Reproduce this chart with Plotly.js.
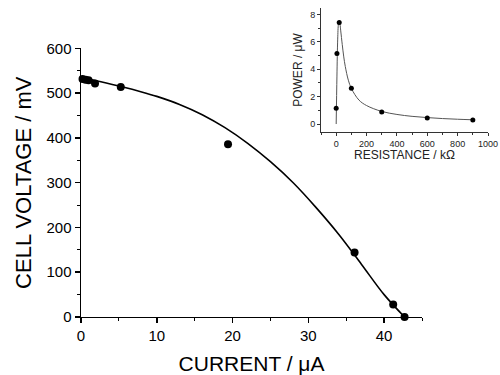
<!DOCTYPE html>
<html><head><meta charset="utf-8">
<script src="https://cdn.plot.ly/plotly-3.0.1.min.js"></script>
<style>body{margin:0;background:#fff}#c{width:500px;height:375px}</style>
</head><body><div id="c"></div>
<script>
// Main: polarization data
var currentPts = [0.2, 0.6, 1.0, 1.85, 5.25, 19.4, 36.1, 41.2, 42.7];
var voltagePts = [532, 530, 529, 522, 514, 386, 144, 28, 0];
// Main: fitted curve
var currentFit = [0, 2, 5, 8, 10, 13, 16, 19, 22, 25, 28, 31, 34, 37, 40, 42.7];
var voltageFit = [535, 528, 516, 503, 493, 475, 452, 423, 388, 347, 300, 245, 185, 118, 50, 0];
// Inset: power vs resistance
var resistPts = [0, 5, 20, 100, 300, 600, 900];
var powerPts = [1.15, 5.15, 7.42, 2.62, 0.88, 0.44, 0.29];
var resistFit = [0, 5, 10, 15, 20, 25, 30, 40, 50, 60, 80, 100, 150, 200, 300, 400, 500, 600, 700, 800, 900];
var powerFit = [0, 3.5, 6.2, 7.3, 7.5, 7.3, 6.8, 5.8, 4.9, 4.2, 3.2, 2.6, 1.75, 1.35, 0.92, 0.7, 0.56, 0.47, 0.4, 0.35, 0.31];

var F = 'Liberation Sans, Arial, sans-serif';
var traces = [
  {x: currentFit, y: voltageFit, mode: 'lines', line: {color: '#000', width: 1.6, shape: 'spline'}, xaxis: 'x', yaxis: 'y', hoverinfo: 'none'},
  {x: currentPts, y: voltagePts, mode: 'markers', marker: {color: '#000', size: 8}, xaxis: 'x', yaxis: 'y', cliponaxis: false},
  {x: resistFit, y: powerFit, mode: 'lines', line: {color: '#555', width: 1, shape: 'spline'}, xaxis: 'x2', yaxis: 'y2'},
  {x: resistPts, y: powerPts, mode: 'markers', marker: {color: '#000', size: 5}, xaxis: 'x2', yaxis: 'y2', cliponaxis: false}
];
var layout = {
  width: 500, height: 375, showlegend: false,
  margin: {l: 0, r: 0, t: 0, b: 0},
  paper_bgcolor: '#fff', plot_bgcolor: 'rgba(0,0,0,0)',
  font: {family: F, color: '#000'},
  xaxis: {domain: [0.162, 0.844], anchor: 'y', range: [0, 45], dtick: 10, tick0: 0,
    showgrid: false, zeroline: false, showline: true, linecolor: '#000', linewidth: 1.5,
    ticks: 'outside', ticklen: 5, tickwidth: 1.5, tickcolor: '#000',
    minor: {ticks: 'outside', ticklen: 3, dtick: 5, tickcolor: '#000', tickwidth: 1},
    tickfont: {size: 15, family: F}, title: {text: 'CURRENT / μA', font: {size: 21, family: F}, standoff: 14}},
  yaxis: {domain: [0.1547, 0.8707], anchor: 'x', range: [0, 600], dtick: 100,
    showgrid: false, zeroline: false, showline: true, linecolor: '#000', linewidth: 1.5,
    ticks: 'outside', ticklen: 5, tickwidth: 1.5, tickcolor: '#000',
    minor: {ticks: 'outside', ticklen: 3, dtick: 50, tickcolor: '#000', tickwidth: 1},
    tickfont: {size: 15, family: F}, title: {text: 'CELL VOLTAGE / mV', font: {size: 22, family: F}, standoff: 9}},
  xaxis2: {domain: [0.642, 0.976], anchor: 'y2', range: [-100, 1000], dtick: 200, tick0: 0,
    showgrid: false, zeroline: false, showline: true, linecolor: '#333', linewidth: 1,
    ticks: 'outside', ticklen: 3, tickcolor: '#333',
    minor: {ticks: 'outside', ticklen: 2, dtick: 100, tickcolor: '#333'},
    tickfont: {size: 9, family: F, color: '#222'}, title: {text: 'RESISTANCE / kΩ', font: {size: 12, family: F, color: '#222'}, standoff: 2}},
  yaxis2: {domain: [0.6488, 0.9779], anchor: 'x2', range: [-0.56, 8.45], dtick: 2,
    showgrid: false, zeroline: false, showline: true, linecolor: '#333', linewidth: 1,
    ticks: 'outside', ticklen: 3, tickcolor: '#333',
    minor: {ticks: 'outside', ticklen: 2, dtick: 1, tickcolor: '#333'},
    tickfont: {size: 9, family: F, color: '#222'}, title: {text: 'POWER / μW', font: {size: 12, family: F, color: '#222'}, standoff: 4}}
};
Plotly.newPlot('c', traces, layout, {staticPlot: true});
</script></body></html>
